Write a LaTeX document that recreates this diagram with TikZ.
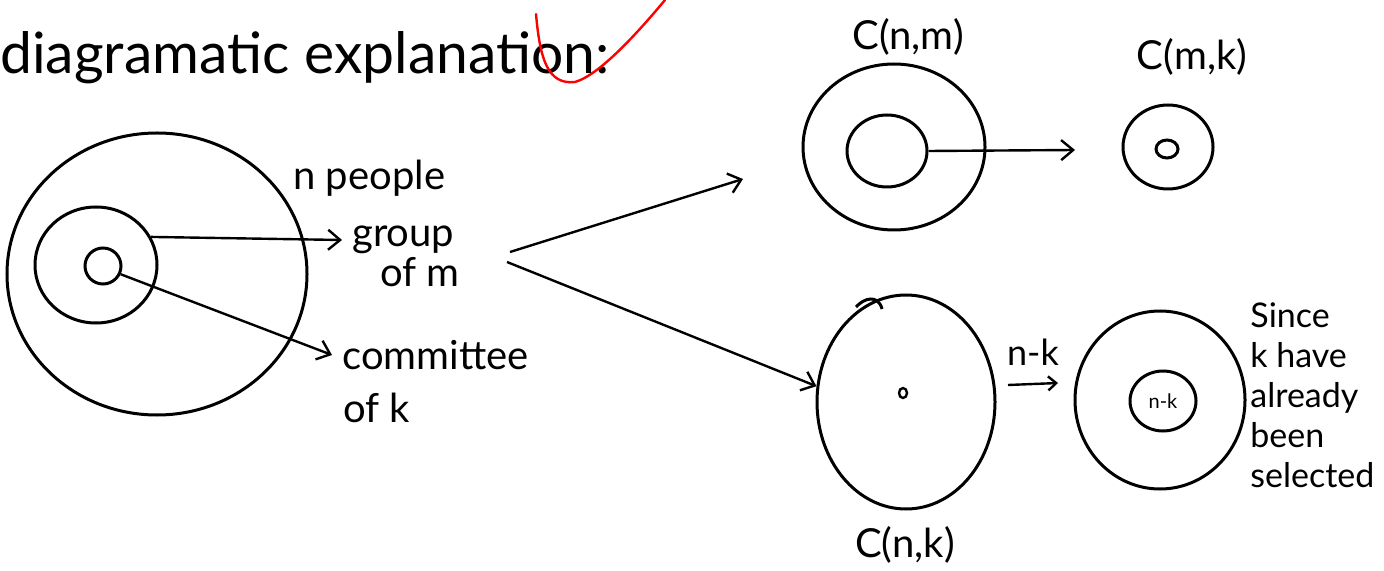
\documentclass[tikz,border=0pt]{standalone}
\usepackage{fontspec}
\setmainfont{Lato}
\usetikzlibrary{arrows.meta,shapes.geometric}
\begin{document}
\begin{tikzpicture}[x=0.5pt,y=-0.5pt,
  ring/.style={draw,ellipse,line width=1.5pt,inner sep=0pt},
  arr/.style={-{Straight Barb[length=6pt,width=10pt]},line width=1.2pt},
  lbl/.style={inner sep=0pt,font=\fontsize{20}{24}\selectfont},
  sidelbl/.style={lbl,anchor=west,inner sep=5pt}
]
\useasboundingbox (0,0) rectangle (1384,571);
% title
\node[lbl,anchor=west,font=\fontsize{28.5}{30}\selectfont] (title) at (0,58) {diagramatic explanation:};
\draw[red,line width=1.2pt,line cap=round] (536,14) .. controls (540,60) and (548,85) .. (575,82) .. controls (600,75) and (640,30) .. (665,0);
% left diagram
\node[ring,minimum width=150pt,minimum height=141pt] (outer) at (157,274) {};
\node[ring,minimum width=61pt,minimum height=58pt] (grp) at (96,265) {};
\node[ring,minimum width=18pt,minimum height=18pt] (com) at (103,266) {};
\node[lbl,anchor=west] (npeople) at (293,178) {n people};
\node[sidelbl] (group) at (342,240) {group};
\node[lbl] (ofm) at (420,272) {of m};
\node[sidelbl] (committee) at (332,355) {committee};
\node[lbl,anchor=west] (ofk) at (343,408) {of k};
\draw[arr] (grp.27) -- (group.west);
\draw[arr] (com.-25) -- (committee.west);
% branching arrows
\coordinate (s1) at (510,252);
\coordinate (e1) at (743,179);
\coordinate (s2) at (507,262);
% C(n,m)
\node[ring,minimum width=91pt,minimum height=83pt] (nm) at (894,147) {};
\node[ring,minimum width=40pt,minimum height=36pt] (nmin) at (887,151) {};
\node[lbl] (nmlbl) at (908,37) {C(n,m)};
\coordinate (e2) at (1075,150);
\draw[arr] (nmin.east) -- (e2);
% C(m,k)
\node[ring,minimum width=45pt,minimum height=42pt] (mk) at (1168,147) {};
\node[ring,minimum width=11pt,minimum height=9pt] (mkin) at (1167,149) {};
\node[lbl] (mklbl) at (1192,57) {C(m,k)};
% C(n,k)
\node[ring,minimum width=89pt,minimum height=107pt] (cnk) at (906,402) {};
\node[ring,line width=1.2pt,minimum width=4pt,minimum height=5pt] (cnkin) at (903,393) {};
\draw[line width=1.5pt] (856,307) .. controls (864,298) and (878,294) .. (882,309);
\node[lbl] (cnklbl) at (905,545) {C(n,k)};
\draw[arr] (s1) -- (e1);
\draw[arr] (s2) -- (cnk.170);
% n-k
\node[lbl,font=\fontsize{18}{20}\selectfont] (nklbl) at (1033,352) {n-k};
\coordinate (a1) at (1008,385);
\coordinate (a2) at (1058,383);
\draw[arr,-{Straight Barb[length=4pt,width=7pt]}] (a1) -- (a2);
\node[ring,minimum width=85pt,minimum height=89pt] (nk) at (1160,400) {};
\node[ring,minimum width=33pt,minimum height=30pt,font=\fontsize{10}{12}\selectfont] (nkin) at (1163,401) {n-k};
\node[lbl,anchor=north west,align=left,font=\fontsize{17}{20}\selectfont] (since) at (1250,302) {Since\\k have\\already\\been\\selected};
\end{tikzpicture}
\end{document}
